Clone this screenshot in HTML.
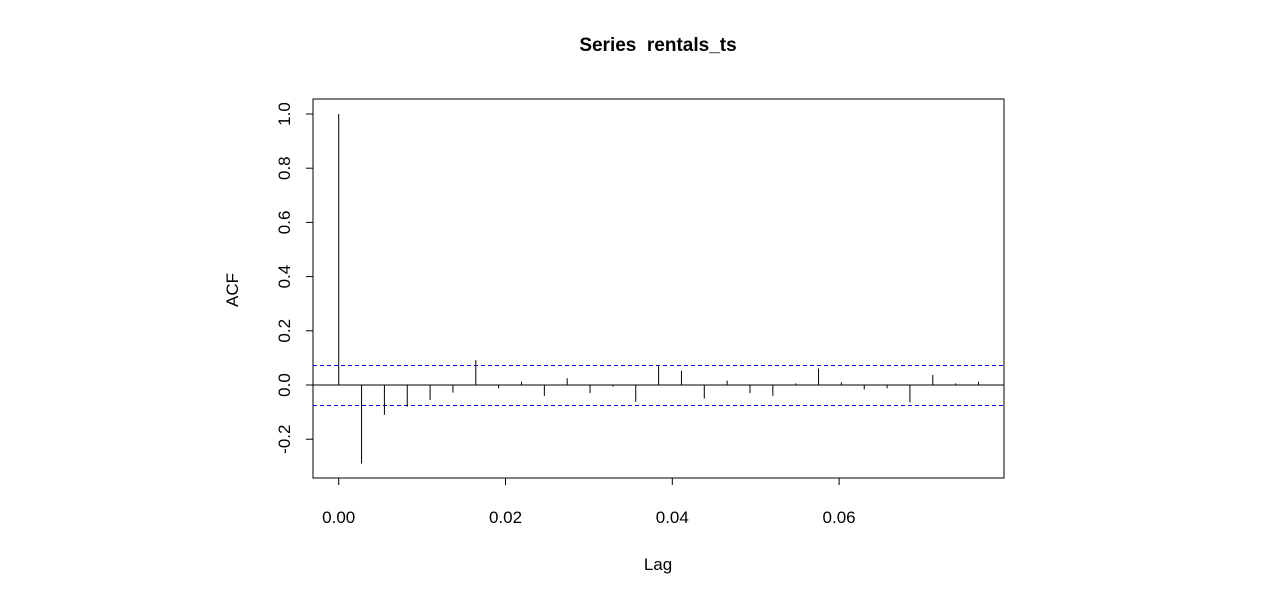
<!DOCTYPE html>
<html><head><meta charset="utf-8"><style>
body{margin:0;background:#fff;}
svg{display:block;font-family:"Liberation Sans",Arial,sans-serif;}
</style></head><body>
<svg id="chart" width="1288" height="602">
<text x="658" y="51" text-anchor="middle" font-size="19" font-weight="bold">Series&#160; rentals_ts</text>
<rect x="313" y="99" width="691" height="379" fill="none" stroke="#000" stroke-width="1"/>
<text transform="translate(238,290) rotate(-90)" text-anchor="middle" font-size="17">ACF</text>
<text x="658" y="570" text-anchor="middle" font-size="17">Lag</text>
<g id="g"></g>
</svg>
<script>
const acfValues=[1.0,-0.29,-0.11,-0.08,-0.055,-0.028,0.092,-0.012,0.012,-0.04,0.025,-0.03,-0.006,-0.062,0.074,0.053,-0.05,0.016,-0.03,-0.04,0.006,0.061,0.01,-0.016,-0.012,-0.064,0.037,0.006,0.012];
const lagFrequency=365;
const confLimit=0.074;
const yTicks=[-0.2,0,0.2,0.4,0.6,0.8,1.0];
const yTickLabels=["-0.2","0.0","0.2","0.4","0.6","0.8","1.0"];
const xTicks=[0,0.02,0.04,0.06];
const xTickLabels=["0.00","0.02","0.04","0.06"];
const NS="http://www.w3.org/2000/svg";
const g=document.getElementById('g');
const X=v=>338.7+v*8340;
const Y=v=>385-v*271;
function mk(t,a){const e=document.createElementNS(NS,t);for(const k in a)e.setAttribute(k,a[k]);g.appendChild(e);return e;}
yTicks.forEach((v,i)=>{
 const l=mk('line',{x1:313,x2:306,y1:Y(v),y2:Y(v),stroke:'#000'});
 
 
 const t=mk('text',{transform:`translate(290,${Y(v)}) rotate(-90)`,'text-anchor':'middle','font-size':17});
 t.textContent=yTickLabels[i];
 
 
});
xTicks.forEach((v,i)=>{
 const l=mk('line',{x1:X(v),x2:X(v),y1:478,y2:485,stroke:'#000'});
 
 
 const t=mk('text',{x:X(v),y:523,'text-anchor':'middle','font-size':17});
 t.textContent=xTickLabels[i];
 
 
});
const z=mk('line',{x1:313,x2:1004,y1:Y(0),y2:Y(0),stroke:'#000'});


[confLimit,-confLimit].forEach(c=>{
 const l=mk('line',{x1:313,x2:1004,y1:Math.round(Y(c))+0.5,y2:Math.round(Y(c))+0.5,stroke:'#0000ff','stroke-dasharray':'4,3'});
 
 
});
acfValues.forEach((v,k)=>{
 const x=X(k/lagFrequency);
 const l=mk('line',{x1:x,x2:x,y1:Y(0),y2:Y(v),stroke:'#000'});
 
 
});
</script>
</body></html>
